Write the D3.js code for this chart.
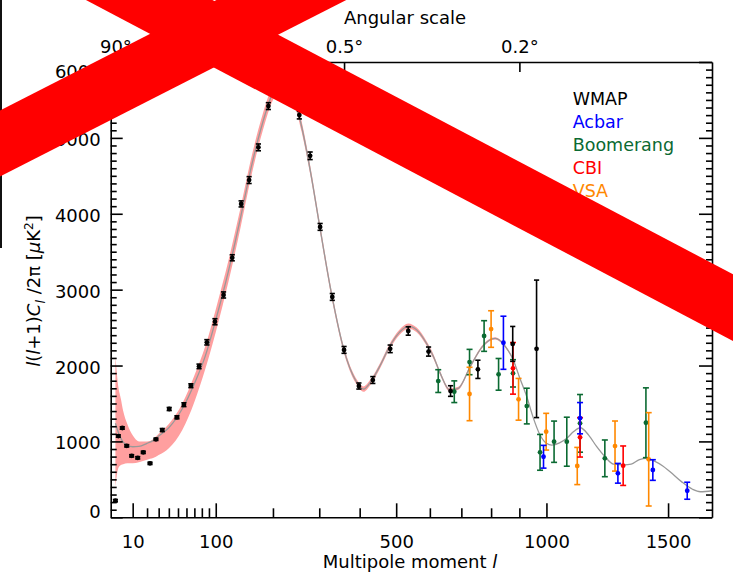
<!DOCTYPE html>
<html>
<head>
<meta charset="utf-8">
<script src="https://cdn.jsdelivr.net/npm/d3@7"></script>
<style>
  body { margin: 0; background: #fff; }
  svg { display: block; font-family: "DejaVu Sans", sans-serif; }
</style>
</head>
<body>
<svg id="chart" width="733" height="577"></svg>
<script>
// ---- data ----
const wmapL = [2, 3, 4.6, 6.7, 9.4, 13.2, 17.1, 22.4, 27.5, 33.4, 40.4, 48.8, 56.9, 65.5, 76.2, 87, 98.8,
  112, 126, 141, 155, 172, 191, 212, 233, 255, 279, 302, 331, 360, 398, 435, 483, 535, 596, 665, 755, 876, 963];
const wmapV = [219, 1071, 1177, 942, 810, 784, 856, 711, 1028, 1150, 1427, 1318, 1484, 1734, 1989, 2306, 2577,
  2930, 3420, 4130, 4444, 4875, 5419, 5700, 5650, 5300, 4764, 3827, 2904, 2206, 1730, 1809, 2220, 2455, 2184, 1664, 1950, 2285, 2220];
const wmapErr = [15, 15, 15, 15, 15, 15, 15, 15, 15, 20, 20, 20, 25, 25, 30, 35, 40,
  40, 40, 40, 45, 45, 45, 50, 50, 50, 50, 45, 45, 45, 40, 45, 50, 55, 60, 70, 120, 230, 906];

const boomL = [626, 677, 727, 776, 826, 877, 927, 976, 1029, 1078, 1130, 1230, 1403];
const boomV = [1795, 1655, 2046, 2389, 1884, 1897, 1466, 856, 996, 996, 1238, 777, 1246];
const boomErr = [150, 143, 167, 202, 209, 180, 235, 236, 272, 323, 380, 242, 460];

const acbarL = [843, 989, 1130, 1284, 1433, 1586];
const acbarV = [2300, 798, 1306, 580, 623, 350];
const acbarErr = [350, 150, 206, 130, 136, 112];

const cbiL = [877, 1130, 1306];
const cbiV = [1963, 1054, 680];
const cbiErr = [340, 260, 260];

const vsaL = [727, 800, 897, 999, 1119, 1272, 1415];
const vsaV = [1625, 2481, 1555, 1128, 676, 939, 764];
const vsaErr = [352, 241, 275, 242, 245, 330, 615];

// best-fit model curve
const theoryL = [2, 3, 4, 5, 7, 10, 14, 20, 25, 30, 40, 55, 70, 85, 100, 120, 140, 160, 180, 200,
  220, 240, 260, 280, 300, 330, 360, 390, 410, 430, 455, 480, 510, 535, 560, 590, 612, 632, 663, 690,
  729, 770, 814, 850, 878, 900, 927, 950, 976, 1000, 1020, 1050, 1078, 1105, 1131, 1165, 1197, 1230, 1266, 1310,
  1340, 1375, 1408, 1440, 1475, 1509, 1560, 1610, 1646, 1700];
const theoryV = [1240, 1120, 1040, 990, 950, 930, 935, 975, 1010, 1070, 1180, 1430, 1760, 2130, 2600, 3250, 3950, 4650, 5200, 5600,
  5750, 5600, 5150, 4550, 3870, 2920, 2200, 1800, 1690, 1790, 2000, 2240, 2440, 2520, 2470, 2290, 2110, 1900, 1677, 1700,
  1984, 2250, 2358, 2250, 2072, 1850, 1589, 1320, 1084, 975, 952, 980, 1041, 1130, 1180, 1080, 930, 800, 700, 690,
  700, 760, 777, 740, 680, 600, 470, 370, 337, 350];
// cosmic variance band (first 46 model points, up to l = 900)
const bandLo = [400, 650, 690, 700, 711, 711, 725, 760, 780, 820, 910, 1150, 1520, 1960, 2440, 3110, 3820, 4530, 5090, 5500,
  5660, 5520, 5080, 4490, 3815, 2870, 2160, 1765, 1655, 1755, 1965, 2205, 2405, 2485, 2440, 2260, 2080, 1875, 1655, 1680,
  1965, 2232, 2342, 2235, 2060, 1840];
const bandHi = [2120, 1720, 1560, 1400, 1230, 1080, 1000, 1000, 1030, 1100, 1230, 1500, 1870, 2260, 2740, 3390, 4080, 4770, 5310, 5700,
  5840, 5680, 5220, 4610, 3925, 2970, 2240, 1835, 1725, 1825, 2035, 2275, 2475, 2555, 2500, 2320, 2140, 1925, 1700, 1720,
  2003, 2268, 2374, 2265, 2084, 1860];

const xMajor = [10, 100, 500, 1000, 1500];
const xMinor = [20, 30, 40, 50, 60, 70, 80, 90, 200, 300, 400, 600, 700, 800, 900];
const angleDeg = [90, 0.5, 0.2];
const angleLabels = ["90°", "0.5°", "0.2°"];
const yMajor = [0, 1000, 2000, 3000, 4000, 5000, 6000];

const legendNames = ["WMAP", "Acbar", "Boomerang", "CBI", "VSA"];
const legendColors = ["#000000", "#0000ff", "#0b6a32", "#ff0000", "#ff8800"];

// ---- chart ----
const svg = d3.select("#chart");
const x = d3.scalePow().exponent(0.6).domain([0.75, 1700]).range([110.7, 712]);
const y = d3.scaleLinear().domain([0, 6000]).range([517.3, 62]);

svg.append("rect").attr("width", 733).attr("height", 577).attr("fill", "#fff");
// scanned edge strip on the far left
svg.append("rect").attr("x", 0).attr("y", 0).attr("width", 2).attr("height", 248).attr("fill", "#111");

const band = theoryL.slice(0, bandLo.length).map((l, i) => ({ l, lo: bandLo[i], hi: bandHi[i] }));
svg.append("path")
  .datum(band)
  .attr("fill", "#ff9f9f")
  .attr("d", d3.area().x(d => x(d.l)).y0(d => y(d.lo)).y1(d => y(d.hi)).curve(d3.curveMonotoneX));

svg.append("path")
  .datum(theoryL.map((l, i) => [l, theoryV[i]]))
  .attr("fill", "none")
  .attr("stroke", "#999")
  .attr("stroke-width", 1.3)
  .attr("d", d3.line(d => x(d[0]), d => y(d[1])).curve(d3.curveMonotoneX));

function drawSeries(L, V, E, color, cap) {
  const pts = L.map((l, i) => ({ l, v: V[i], e: E[i] }));
  const g = svg.append("g").attr("stroke", color).attr("fill", color).attr("stroke-width", 1.6);
  g.selectAll(".bar").data(pts).join("line").attr("class", "bar")
    .attr("x1", d => x(d.l)).attr("x2", d => x(d.l))
    .attr("y1", d => y(d.v - d.e)).attr("y2", d => y(d.v + d.e));
  g.selectAll(".capT").data(pts).join("line").attr("class", "capT")
    .attr("x1", d => x(d.l) - cap).attr("x2", d => x(d.l) + cap)
    .attr("y1", d => y(d.v + d.e)).attr("y2", d => y(d.v + d.e));
  g.selectAll(".capB").data(pts).join("line").attr("class", "capB")
    .attr("x1", d => x(d.l) - cap).attr("x2", d => x(d.l) + cap)
    .attr("y1", d => y(d.v - d.e)).attr("y2", d => y(d.v - d.e));
  g.selectAll("circle").data(pts).join("circle")
    .attr("cx", d => x(d.l)).attr("cy", d => y(d.v)).attr("r", 2.4).attr("stroke", "none");
}

drawSeries(boomL, boomV, boomErr, legendColors[2], 3);
drawSeries(vsaL, vsaV, vsaErr, legendColors[4], 3);
drawSeries(cbiL, cbiV, cbiErr, legendColors[3], 3);
drawSeries(acbarL, acbarV, acbarErr, legendColors[1], 3);
drawSeries(wmapL, wmapV, wmapErr, legendColors[0], 2.6);

// ---- axes ----
function styleAxis(g) {
  g.selectAll(".domain, line").attr("stroke", "#000").attr("stroke-width", 1.6);
  g.selectAll("text").attr("font-size", 18).attr("fill", "#000")
    .attr("font-family", '"DejaVu Sans", sans-serif');
}
function bare(g) { g.select(".domain").remove(); }

const plotBottom = y.range()[0], plotTop = y.range()[1];
const plotLeft = x.range()[0], plotRight = x.range()[1];

svg.append("g").attr("transform", `translate(0,${plotBottom})`)
  .call(d3.axisBottom(x).tickValues(xMajor).tickSize(-14).tickSizeOuter(0).tickPadding(18).tickFormat(d3.format("d")))
  .call(styleAxis);
svg.append("g").attr("transform", `translate(0,${plotBottom})`)
  .call(d3.axisBottom(x).tickValues(xMinor).tickSize(-9).tickFormat(""))
  .call(bare).call(styleAxis);

svg.append("g").attr("transform", `translate(0,${plotTop})`)
  .call(d3.axisTop(x).tickValues(angleDeg.map(d => 180 / d)).tickSize(-10).tickSizeOuter(0).tickPadding(9)
    .tickFormat((d, i) => angleLabels[i]))
  .call(styleAxis);

const yMinor = d3.range(100, 6000, 100).filter(v => v % 1000 !== 0);
svg.append("g").attr("transform", `translate(${plotLeft},0)`)
  .call(d3.axisLeft(y).tickValues(yMajor).tickSize(-12).tickSizeOuter(0).tickPadding(10).tickFormat(d3.format("d")))
  .call(styleAxis)
  .call(g => g.selectAll("text").attr("dy", "0.42em")
    .attr("y", d => d === 0 ? -7 : d === 6000 ? 7.5 : 0));
svg.append("g").attr("transform", `translate(${plotLeft},0)`)
  .call(d3.axisLeft(y).tickValues(yMinor).tickSize(-6).tickFormat(""))
  .call(bare).call(styleAxis);
svg.append("g").attr("transform", `translate(${plotRight},0)`)
  .call(d3.axisRight(y).tickValues(yMajor).tickSize(-13).tickSizeOuter(0).tickFormat(""))
  .call(styleAxis);
svg.append("g").attr("transform", `translate(${plotRight},0)`)
  .call(d3.axisRight(y).tickValues(yMinor).tickSize(-6).tickFormat(""))
  .call(bare).call(styleAxis);

// ---- titles ----
svg.append("text").attr("x", 405).attr("y", 24).attr("text-anchor", "middle")
  .attr("font-size", 18).text("Angular scale");

const xt = svg.append("text").attr("x", 410).attr("y", 568).attr("text-anchor", "middle").attr("font-size", 18);
xt.append("tspan").text("Multipole moment ");
xt.append("tspan").attr("font-style", "italic").text("l");

const yt = svg.append("text").attr("transform", "translate(40,291) rotate(-90)")
  .attr("text-anchor", "middle").attr("font-size", 18);
yt.append("tspan").attr("font-style", "italic").text("l");
yt.append("tspan").text("(");
yt.append("tspan").attr("font-style", "italic").text("l");
yt.append("tspan").text("+1)");
yt.append("tspan").attr("font-style", "italic").text("C");
yt.append("tspan").attr("font-style", "italic").attr("font-size", 13).attr("dy", 5).text("l");
yt.append("tspan").attr("dy", -5).text(" /2π [");
yt.append("tspan").attr("font-style", "italic").text("μ");
yt.append("tspan").text("K");
yt.append("tspan").attr("font-size", 12).attr("dy", -7).text("2");
yt.append("tspan").attr("dy", 7).text("]");

// ---- legend ----
svg.append("g").selectAll("text").data(legendNames).join("text")
  .attr("x", 572.7).attr("y", (d, i) => 105 + i * 23)
  .attr("font-size", 17.5).attr("fill", (d, i) => legendColors[i]).text(d => d);

// ---- red cross over the picture ----
const cross = svg.append("g").attr("stroke", "#ff0000").attr("stroke-width", 59);
cross.append("line").attr("x1", -100).attr("y1", -131.3).attr("x2", 850).attr("y2", 369.3);
cross.append("line").attr("x1", -100).attr("y1", 194.5).attr("x2", 500).attr("y2", -111.5);
</script>
</body>
</html>
